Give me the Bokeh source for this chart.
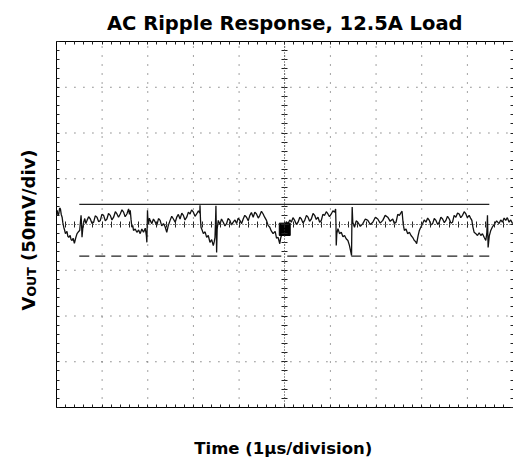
import math
from bokeh.plotting import figure
from bokeh.models import (Range1d, LinearAxis, FixedTicker, Label, ColumnDataSource)
from bokeh.embed import file_html
from bokeh.resources import INLINE

# ---------------- data (in scope divisions) ----------------
title_text = "AC Ripple Response, 12.5A Load"
x_label = "Time (1\u03bcs/division)"
y_label_main = "V"
y_label_sub = "OUT"
y_label_rest = "(50mV/div)"

trace_t = [0.00, 0.015, 0.035, 0.051, 0.070, 0.087, 0.105, 0.124, 0.140, 0.160, 0.178, 0.197, 0.230, 0.250,
           0.269, 0.300, 0.320, 0.342, 0.365, 0.393, 0.420, 0.451, 0.480, 0.509, 0.525, 0.539, 0.550, 0.560,
           0.580, 0.597, 0.620, 0.645, 0.670, 0.705, 0.742, 0.780, 0.815, 0.850, 0.888, 0.925, 0.961, 0.995,
           1.033, 1.070, 1.106, 1.140, 1.179, 1.215, 1.252, 1.290, 1.325, 1.360, 1.397, 1.435, 1.470, 1.505,
           1.543, 1.580, 1.600, 1.616, 1.635, 1.652, 1.670, 1.688, 1.725, 1.761, 1.800, 1.834, 1.870, 1.907,
           1.945, 1.970, 1.980, 1.994, 2.005, 2.016, 2.035, 2.052, 2.090, 2.125, 2.160, 2.198, 2.235, 2.271,
           2.305, 2.343, 2.380, 2.416, 2.450, 2.489, 2.525, 2.562, 2.600, 2.635, 2.670, 2.707, 2.745, 2.780,
           2.815, 2.853, 2.890, 2.926, 2.960, 2.999, 3.035, 3.071, 3.110, 3.140, 3.144, 3.155, 3.166, 3.190,
           3.217, 3.255, 3.290, 3.325, 3.362, 3.400, 3.435, 3.455, 3.472, 3.485, 3.493, 3.500, 3.508, 3.520,
           3.544, 3.580, 3.615, 3.653, 3.690, 3.726, 3.760, 3.799, 3.835, 3.872, 3.910, 3.945, 3.980, 4.017,
           4.055, 4.090, 4.125, 4.163, 4.200, 4.236, 4.270, 4.309, 4.345, 4.381, 4.420, 4.454, 4.490, 4.527,
           4.560, 4.600, 4.635, 4.672, 4.705, 4.745, 4.790, 4.820, 4.854, 4.875, 4.891, 4.910, 4.927, 4.960,
           5.000, 5.035, 5.073, 5.110, 5.146, 5.180, 5.218, 5.255, 5.291, 5.330, 5.364, 5.400, 5.437, 5.475,
           5.510, 5.545, 5.582, 5.620, 5.655, 5.690, 5.728, 5.765, 5.801, 5.835, 5.873, 5.910, 5.946, 5.980,
           6.019, 6.055, 6.092, 6.114, 6.122, 6.128, 6.140, 6.165, 6.200, 6.237, 6.275, 6.310, 6.345, 6.383,
           6.415, 6.441, 6.463, 6.470, 6.477, 6.490, 6.528, 6.565, 6.601, 6.655, 6.710, 6.765, 6.819, 6.875,
           6.928, 6.985, 7.037, 7.090, 7.147, 7.200, 7.256, 7.310, 7.365, 7.400, 7.438, 7.475, 7.511, 7.540,
           7.569, 7.595, 7.620, 7.655, 7.693, 7.730, 7.766, 7.800, 7.838, 7.865, 7.889, 7.920, 7.948, 7.985,
           8.020, 8.055, 8.093, 8.130, 8.166, 8.200, 8.239, 8.275, 8.312, 8.350, 8.384, 8.420, 8.457, 8.495,
           8.530, 8.565, 8.603, 8.640, 8.675, 8.710, 8.748, 8.785, 8.821, 8.855, 8.894, 8.930, 8.967, 9.000,
           9.039, 9.070, 9.098, 9.120, 9.148, 9.185, 9.221, 9.258, 9.294, 9.330, 9.367, 9.403, 9.425, 9.440,
           9.454, 9.480, 9.512, 9.550, 9.585, 9.640, 9.694, 9.730, 9.767, 9.805, 9.840, 9.875, 9.913, 9.950,
           9.990]
trace_v = [0.27, 0.31, 0.20, 0.23, 0.36, 0.34, 0.22, 0.16, 0.04, -0.06, -0.12, -0.20, -0.15, -0.26,
           -0.28, -0.24, -0.33, -0.35, -0.30, -0.41, -0.30, -0.20, -0.16, -0.13, 0.05, 0.20, 0.00, -0.28,
           -0.05, 0.05, 0.13, 0.02, 0.09, 0.17, 0.12, 0.02, 0.05, 0.19, 0.16, 0.06, 0.09, 0.22,
           0.20, 0.08, 0.12, 0.24, 0.20, 0.10, 0.16, 0.28, 0.23, 0.16, 0.23, 0.32, 0.27, 0.17,
           0.23, 0.34, 0.22, 0.31, 0.10, -0.06, -0.02, -0.13, -0.10, -0.17, -0.12, -0.20, -0.10, -0.17,
           -0.08, -0.25, -0.39, 0.31, 0.05, 0.00, 0.14, 0.09, 0.02, 0.12, 0.06, -0.02, 0.13, 0.09,
           -0.03, 0.02, -0.05, -0.17, -0.02, 0.09, 0.18, 0.12, 0.05, 0.16, 0.22, 0.12, 0.25, 0.20,
           0.10, 0.16, 0.27, 0.23, 0.32, 0.27, 0.18, 0.23, 0.30, 0.25, 0.42, 0.10, -0.06, -0.12,
           -0.20, -0.16, -0.28, -0.24, -0.39, -0.33, -0.46, -0.38, -0.28, 0.10, 0.41, 0.00, -0.61, -0.10,
           0.09, 0.00, 0.12, 0.05, -0.03, 0.02, 0.13, 0.09, -0.01, 0.05, 0.10, 0.02, 0.14, 0.09,
           0.02, 0.12, 0.20, 0.16, 0.08, 0.20, 0.26, 0.16, 0.27, 0.23, 0.14, 0.20, 0.29, 0.23,
           0.16, 0.09, -0.02, -0.06, -0.14, -0.20, -0.15, -0.30, -0.28, -0.36, -0.42, -0.30, -0.24, -0.12,
           -0.06, 0.06, 0.02, 0.10, 0.05, 0.15, 0.09, 0.00, 0.05, 0.16, 0.12, 0.03, 0.09, 0.20,
           0.16, 0.07, 0.12, 0.24, 0.20, 0.11, 0.16, 0.05, 0.09, 0.22, 0.20, 0.28, 0.23, 0.17,
           0.23, 0.30, 0.27, 0.34, 0.00, -0.46, -0.20, -0.09, -0.20, -0.17, -0.27, -0.24, -0.31, -0.35,
           -0.45, -0.57, -0.68, 0.00, 0.38, 0.05, -0.06, 0.08, 0.05, -0.04, 0.02, 0.12, 0.09, 0.00,
           0.05, 0.16, 0.12, 0.03, 0.09, 0.20, 0.16, 0.07, 0.12, 0.02, 0.05, 0.22, 0.20, 0.25,
           0.29, 0.00, -0.13, -0.10, -0.20, -0.17, -0.24, -0.28, -0.35, -0.37, -0.42, -0.25, -0.13, -0.05,
           0.02, 0.10, 0.05, 0.14, 0.09, -0.01, 0.02, 0.13, 0.09, 0.00, 0.05, 0.16, 0.12, 0.04,
           0.09, 0.18, 0.12, 0.03, 0.05, 0.20, 0.16, 0.25, 0.23, 0.15, 0.20, 0.28, 0.23, 0.15,
           0.20, 0.14, 0.09, -0.05, -0.17, -0.20, -0.24, -0.18, -0.24, -0.20, -0.28, -0.35, -0.20, 0.20,
           -0.50, -0.25, -0.13, -0.05, 0.00, 0.08, 0.02, 0.10, 0.05, 0.14, 0.09, 0.15, 0.05, 0.10,
           0.02]

# cursor lines (upper solid, lower dashed)
cursor_t = [0.50, 9.48]
cursor_upper = [0.44, 0.44]
cursor_lower = [-0.69, -0.69]

# channel reference marker
marker_t = [5.0]
marker_v = [-0.105]
marker_w = [0.24]
marker_h = [0.27]

# scope graticule: 10 x 8 divisions, 5 minor marks per division
N_X_DIV = 10
N_Y_DIV = 8

# ---------------- layout constants (pixels) ----------------
W, H = 513, 459
LEFT, TOP, BOTTOM = 56, 41, 52          # graticule offsets inside the canvas
PX_X = (W - LEFT) / N_X_DIV             # pixels per horizontal division
PX_Y = (H - TOP - BOTTOM) / N_Y_DIV     # pixels per vertical division

x0, x1 = -LEFT / PX_X, N_X_DIV + 0.01
y1 = N_Y_DIV / 2 + TOP / PX_Y
y0 = -N_Y_DIV / 2 - BOTTOM / PX_Y

FONT = "DejaVu Sans"
p = figure(width=W, height=H, x_range=Range1d(x0, x1), y_range=Range1d(y0, y1),
           output_backend="svg", toolbar_location=None,
           x_axis_location=None, y_axis_location=None,
           min_border_left=0, min_border_right=0, min_border_top=0, min_border_bottom=0)
p.background_fill_color = "white"
p.border_fill_color = "white"
p.outline_line_color = None
p.xgrid.visible = False
p.ygrid.visible = False

hx = N_X_DIV / 2
hy = N_Y_DIV / 2
minor_x = [round(i * 0.2, 2) for i in range(0, N_X_DIV * 5 + 1)]
minor_y = [round(-hy + i * 0.2, 2) for i in range(0, N_Y_DIV * 5 + 1)]

# dotted graticule lines at every division (drawn first, underneath)
grid_x = list(range(1, N_X_DIV))
grid_y = list(range(-int(hy) + 1, int(hy)))
p.segment(x0=grid_x, y0=[-hy] * len(grid_x), x1=grid_x, y1=[hy] * len(grid_x),
          line_color="#444444", line_width=1, line_dash="1 8")
p.segment(x0=[0] * len(grid_y), y0=grid_y, x1=[N_X_DIV] * len(grid_y), y1=grid_y,
          line_color="#444444", line_width=1, line_dash="1 8")


def scope_axis(loc, fixed, bounds, minor, dash=None, show_line=True):
    ax = LinearAxis(fixed_location=fixed, bounds=bounds,
                    ticker=FixedTicker(ticks=[], minor_ticks=minor))
    ax.major_tick_in = 0
    ax.major_tick_out = 0
    ax.minor_tick_in = 3
    ax.minor_tick_out = 0
    ax.major_label_standoff = 0
    ax.minor_tick_line_color = "#222222"
    ax.axis_line_color = "black" if show_line else None
    if dash:
        ax.axis_line_dash = dash
        ax.axis_line_color = "#333333" if show_line else None
    p.add_layout(ax, loc)
    return ax


# graticule frame
scope_axis("below", -hy, (0, N_X_DIV), minor_x)
scope_axis("above", hy, (0, N_X_DIV), minor_x)
scope_axis("left", 0, (-hy, hy), minor_y)
scope_axis("right", N_X_DIV, (-hy, hy), minor_y)
# center cross with ticks on both sides
scope_axis("below", 0, (0, N_X_DIV), minor_x, dash="1 2")
scope_axis("above", 0, (0, N_X_DIV), minor_x, dash="1 2", show_line=False)
scope_axis("left", hx, (-hy, hy), minor_y, dash="1 2")
scope_axis("right", hx, (-hy, hy), minor_y, dash="1 2", show_line=False)

# trace
src = ColumnDataSource(dict(t=trace_t, v=trace_v))
p.line("t", "v", source=src, line_color="#111111", line_width=1.3)

# cursors
p.line(cursor_t, cursor_upper, line_color="#222222", line_width=1.2)
p.line(cursor_t, cursor_lower, line_color="#222222", line_width=1.2, line_dash="10 6")

# marker
p.rect(x=marker_t, y=marker_v, width=marker_w, height=marker_h, fill_color="black", line_color="black")


# ---------------- texts ----------------
def px_to_t(cx):
    return x0 + cx / PX_X


def px_to_v(cy):
    return y1 - cy / PX_Y


p.add_layout(Label(x=px_to_t(284.5), y=px_to_v(23.3), text=title_text, text_font=FONT,
                   text_font_size="19.5px", text_font_style="bold", text_align="center",
                   text_baseline="alphabetic", text_color="black"))
p.add_layout(Label(x=px_to_t(283), y=px_to_v(448.3), text=x_label, text_font=FONT,
                   text_font_size="16.5px", text_font_style="bold", text_align="center",
                   text_baseline="alphabetic", text_color="black"))

ylab_size = 18
v_start = px_to_v(310)
v_w = 13.9 / PX_Y            # advance of "V"
sub_w = (29.3 + 6.3) / PX_Y  # advance of subscript plus a word space
p.add_layout(Label(x=px_to_t(28), y=v_start, text=y_label_main, angle=math.pi / 2, text_font=FONT,
                   text_font_size=f"{ylab_size}px", text_font_style="bold", text_align="left",
                   text_baseline="alphabetic", text_color="black"))
p.add_layout(Label(x=px_to_t(31), y=v_start + v_w, text=y_label_sub, angle=math.pi / 2, text_font=FONT,
                   text_font_size="12.5px", text_font_style="bold", text_align="left",
                   text_baseline="alphabetic", text_color="black"))
p.add_layout(Label(x=px_to_t(28), y=v_start + v_w + sub_w, text=y_label_rest, angle=math.pi / 2,
                   text_font=FONT, text_font_size=f"{ylab_size}px", text_font_style="bold",
                   text_align="left", text_baseline="alphabetic", text_color="black"))

open("out.html", "w").write(file_html(p, INLINE))
